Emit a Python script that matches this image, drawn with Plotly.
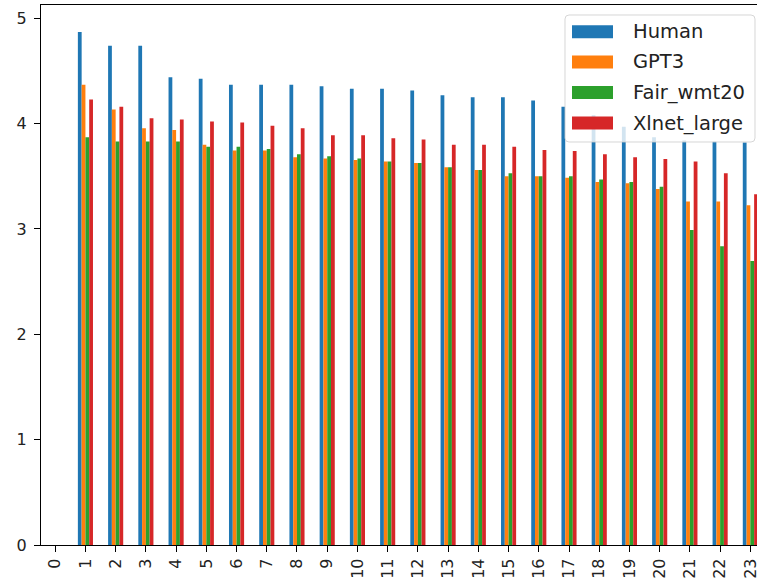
import plotly.graph_objects as go

# Average ratings per item (item 0 has no ratings)
items = list(range(24))
human = [None, 4.87, 4.74, 4.74, 4.44, 4.425, 4.37, 4.37, 4.37, 4.355, 4.33, 4.33,
         4.315, 4.27, 4.25, 4.25, 4.22, 4.16, 4.08, 3.97, 3.87, 3.84, 3.83, 3.82]
gpt3 = [None, 4.37, 4.135, 3.955, 3.94, 3.80, 3.745, 3.745, 3.68, 3.67, 3.655, 3.64,
        3.625, 3.585, 3.56, 3.50, 3.50, 3.485, 3.445, 3.435, 3.38, 3.26, 3.26, 3.225]
fair_wmt20 = [None, 3.87, 3.83, 3.83, 3.83, 3.78, 3.78, 3.76, 3.71, 3.69, 3.67, 3.64,
              3.625, 3.585, 3.56, 3.53, 3.50, 3.50, 3.47, 3.445, 3.40, 2.99, 2.835, 2.695]
xlnet_large = [None, 4.23, 4.16, 4.05, 4.04, 4.02, 4.01, 3.98, 3.955, 3.89, 3.89, 3.86,
               3.85, 3.80, 3.80, 3.78, 3.75, 3.74, 3.71, 3.68, 3.665, 3.64, 3.53, 3.33]

series = [("Human", human, "#1f77b4"),
          ("GPT3", gpt3, "#ff7f0e"),
          ("Fair_wmt20", fair_wmt20, "#2ca02c"),
          ("Xlnet_large", xlnet_large, "#d62728")]

W, H = 757, 587
ML, MR, MT, MB = 41, 0, 5, 42
FONT = "DejaVu Sans"

fig = go.Figure()
for name, vals, col in series:
    fig.add_trace(go.Bar(x=items, y=vals, name=name, marker=dict(color=col, line=dict(width=0)),
                         showlegend=False))

fig.update_layout(
    width=W, height=H,
    margin=dict(l=ML, r=MR, t=MT, b=MB, pad=0),
    paper_bgcolor="white", plot_bgcolor="white",
    barmode="group", bargap=0.5, bargroupgap=0,
    font=dict(family=FONT, size=16, color="#222"),
)
fig.update_xaxes(
    range=[-0.47, 23.22], tickmode="array", tickvals=items, ticktext=[str(i) for i in items],
    tickangle=-90, ticks="outside", ticklen=6, tickwidth=1.2, tickcolor="black",
    showline=True, linecolor="black", linewidth=1.2, mirror=True,
    showgrid=False, zeroline=False, automargin=False, ticklabeloverflow="allow",
    tickfont=dict(family=FONT, size=16, color="#222"),
)
fig.update_yaxes(
    range=[0, 5.126], tickmode="array", tickvals=[0, 1, 2, 3, 4, 5],
    ticks="outside", ticklen=6, tickwidth=1.2, tickcolor="black",
    showline=True, linecolor="black", linewidth=1.2, mirror=False,
    showgrid=False, zeroline=False, automargin=False, ticklabelstandoff=4,
    tickfont=dict(family=FONT, size=16, color="#222"),
)

# Legend drawn in pixel units, converted to plot-area fractions
pw, ph = W - ML - MR, H - MT - MB


def px(x):
    return (x - ML) / pw


def py(y):
    return (H - MB - y) / ph


x0, x1, y0, y1, r = 565, 755, 15, 142, 4
path = (f"M {px(x0 + r)},{py(y0)} L {px(x1 - r)},{py(y0)} Q {px(x1)},{py(y0)} {px(x1)},{py(y0 + r)} "
        f"L {px(x1)},{py(y1 - r)} Q {px(x1)},{py(y1)} {px(x1 - r)},{py(y1)} "
        f"L {px(x0 + r)},{py(y1)} Q {px(x0)},{py(y1)} {px(x0)},{py(y1 - r)} "
        f"L {px(x0)},{py(y0 + r)} Q {px(x0)},{py(y0)} {px(x0 + r)},{py(y0)} Z")
fig.add_shape(type="path", path=path, xref="paper", yref="paper",
              fillcolor="rgba(255,255,255,0.8)", line=dict(color="rgba(204,204,204,0.8)", width=1),
              layer="above")

row_y = [31.7, 62.0, 92.5, 123.0]
for (name, vals, col), cy in zip(series, row_y):
    fig.add_shape(type="rect", xref="paper", yref="paper",
                  x0=px(572), x1=px(613), y0=py(cy + 6.5), y1=py(cy - 6.5),
                  fillcolor=col, line=dict(width=0), layer="above")
    fig.add_annotation(x=px(631), y=py(cy), xref="paper", yref="paper", text=name,
                       showarrow=False, xanchor="left", yanchor="middle",
                       font=dict(family=FONT, size=19.5, color="#222"))

fig.write_html("out.html")
